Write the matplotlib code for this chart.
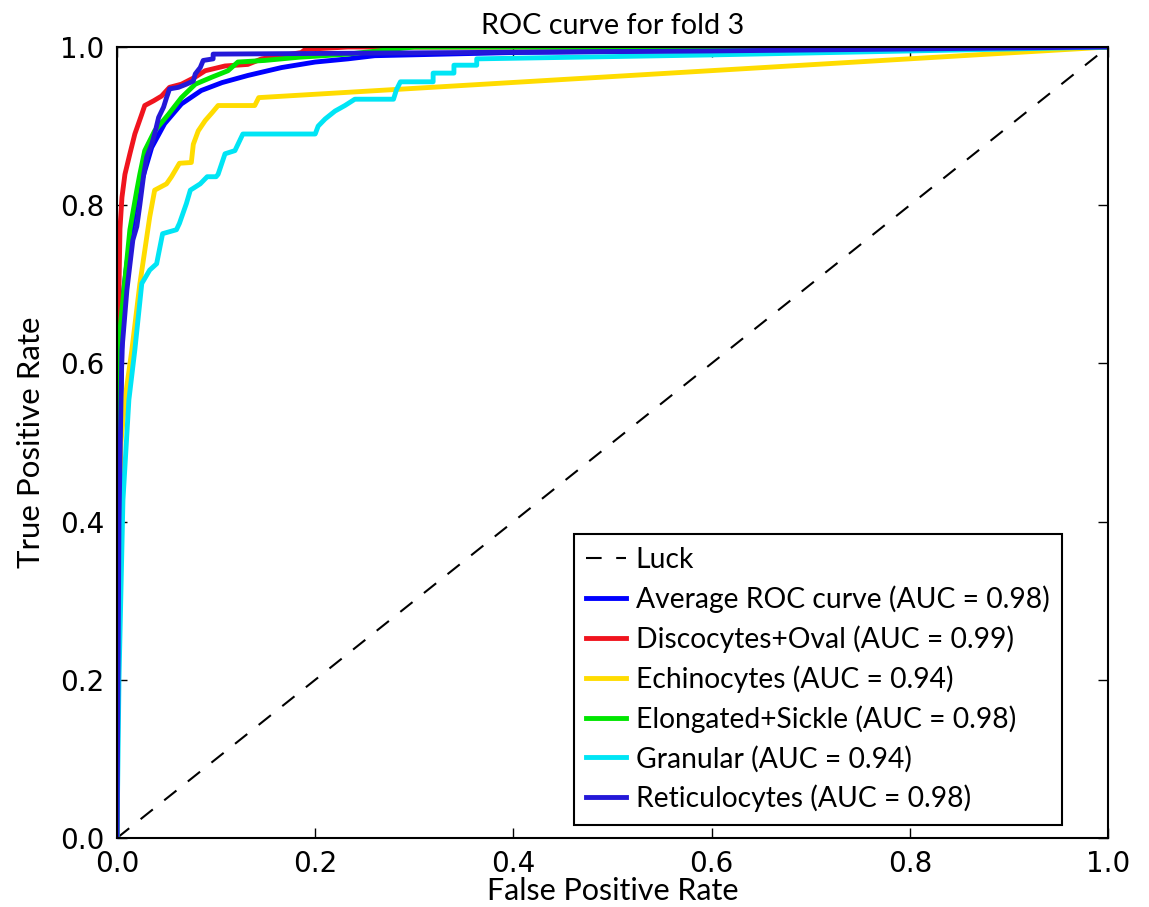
import matplotlib
matplotlib.use("Agg")
import matplotlib.pyplot as plt

# curve points (fpr, tpr)
avg_fpr = [0, 0.001, 0.003, 0.005, 0.006, 0.010, 0.015, 0.020, 0.027, 0.035, 0.048, 0.065,
           0.085, 0.106, 0.132, 0.166, 0.200, 0.233, 0.260, 0.400, 0.700, 1.0]
avg_tpr = [0, 0.35, 0.50, 0.617, 0.685, 0.727, 0.769, 0.811, 0.839, 0.873, 0.903, 0.928,
           0.945, 0.955, 0.964, 0.974, 0.981, 0.985, 0.989, 0.993, 0.997, 1.0]

disc_fpr = [0, 0.0, 0.001, 0.003, 0.005, 0.008, 0.013, 0.018, 0.025, 0.028, 0.037, 0.045,
            0.053, 0.065, 0.079, 0.089, 0.109, 0.132, 0.146, 0.186, 0.190, 0.233, 1.0]
disc_tpr = [0, 0.45, 0.62, 0.77, 0.81, 0.839, 0.865, 0.890, 0.915, 0.926, 0.932, 0.938,
            0.949, 0.953, 0.962, 0.970, 0.976, 0.978, 0.985, 0.993, 0.997, 1.0, 1.0]

echi_fpr = [0, 0.001, 0.004, 0.008, 0.015, 0.023, 0.033, 0.038, 0.050, 0.055, 0.063, 0.075,
            0.077, 0.082, 0.089, 0.096, 0.102, 0.139, 0.143, 1.0]
echi_tpr = [0, 0.30, 0.50, 0.554, 0.617, 0.700, 0.785, 0.819, 0.827, 0.836, 0.853, 0.854,
            0.877, 0.894, 0.907, 0.917, 0.926, 0.926, 0.936, 1.0]

elon_fpr = [0, 0.0, 0.001, 0.013, 0.020, 0.023, 0.028, 0.038, 0.052, 0.065, 0.079, 0.096,
            0.112, 0.122, 0.149, 0.183, 0.233, 0.300, 1.0]
elon_tpr = [0, 0.40, 0.617, 0.769, 0.819, 0.839, 0.869, 0.894, 0.915, 0.936, 0.953, 0.962,
            0.970, 0.981, 0.983, 0.987, 0.991, 1.0, 1.0]

gran_fpr = [0, 0.002, 0.006, 0.012, 0.018, 0.025, 0.033, 0.040, 0.046, 0.060, 0.063, 0.070,
            0.074, 0.084, 0.091, 0.100, 0.102, 0.109, 0.119, 0.127, 0.200, 0.203, 0.210,
            0.220, 0.230, 0.240, 0.279, 0.282, 0.286, 0.319, 0.319, 0.340, 0.340, 0.363,
            0.363, 0.600, 1.0]
gran_tpr = [0, 0.20, 0.427, 0.554, 0.617, 0.701, 0.718, 0.726, 0.764, 0.769, 0.777, 0.802,
            0.819, 0.827, 0.836, 0.836, 0.839, 0.865, 0.869, 0.890, 0.890, 0.900, 0.909,
            0.919, 0.926, 0.934, 0.934, 0.946, 0.956, 0.956, 0.967, 0.967, 0.977, 0.977,
            0.985, 0.990, 1.0]

reti_fpr = [0, 0.002, 0.004, 0.005, 0.010, 0.016, 0.020, 0.023, 0.027, 0.030, 0.035, 0.038,
            0.042, 0.047, 0.050, 0.053, 0.062, 0.070, 0.077, 0.079, 0.084, 0.087, 0.097,
            0.097, 0.600, 1.0]
reti_tpr = [0, 0.40, 0.55, 0.617, 0.693, 0.756, 0.773, 0.800, 0.839, 0.861, 0.877, 0.890,
            0.911, 0.924, 0.936, 0.947, 0.949, 0.953, 0.957, 0.966, 0.974, 0.983, 0.985,
            0.991, 0.995, 1.0]

names = ["Average ROC curve", "Discocytes+Oval", "Echinocytes", "Elongated+Sickle",
         "Granular", "Reticulocytes"]
aucs = [0.98, 0.99, 0.94, 0.98, 0.94, 0.98]
colors = ["#0000ff", "#f0141e", "#ffdc00", "#00e600", "#00e5f5", "#2418d8"]

curves = [(avg_fpr, avg_tpr), (disc_fpr, disc_tpr), (echi_fpr, echi_tpr),
          (elon_fpr, elon_tpr), (gran_fpr, gran_tpr), (reti_fpr, reti_tpr)]

fig = plt.figure(figsize=(11.49, 9.07), dpi=100)
ax = fig.add_axes([117 / 1149, 69 / 907, 991 / 1149, 791 / 907])

ax.plot([0, 1], [0, 1], color="black", lw=1.5, dashes=(7.5, 7), label="Luck")
for (f, t), name, auc, c in zip(curves, names, aucs, colors):
    ax.plot(f, t, color=c, lw=3.5, label="%s (AUC = %0.2f)" % (name, auc))

ax.set_xlim(0, 1)
ax.set_ylim(0, 1)
ax.set_xticks([0, 0.2, 0.4, 0.6, 0.8, 1.0])
ax.set_yticks([0, 0.2, 0.4, 0.6, 0.8, 1.0])
ax.tick_params(direction="in", length=7, width=1, top=True, right=True,
               labelsize=20, pad=9)
for s in ax.spines.values():
    s.set_linewidth(1.5)

lfont = "Lato"
ax.set_title("ROC curve for fold 3", fontsize=20.7, family=lfont, pad=9)
ax.set_xlabel("False Positive Rate", fontsize=22, family=lfont, labelpad=-1)
ax.set_ylabel("True Positive Rate", fontsize=22.5, family=lfont, labelpad=11)

leg = ax.legend(loc="lower right", bbox_to_anchor=(1062 / 1149, 82 / 907),
                bbox_transform=fig.transFigure, borderaxespad=0,
                prop={"family": lfont, "size": 20.3}, fancybox=False,
                edgecolor="black", framealpha=1, handlelength=1.4,
                handletextpad=0.35, labelspacing=0.44, borderpad=0.45)
leg.get_frame().set_linewidth(1.5)

fig.savefig("out.png", dpi=100)
